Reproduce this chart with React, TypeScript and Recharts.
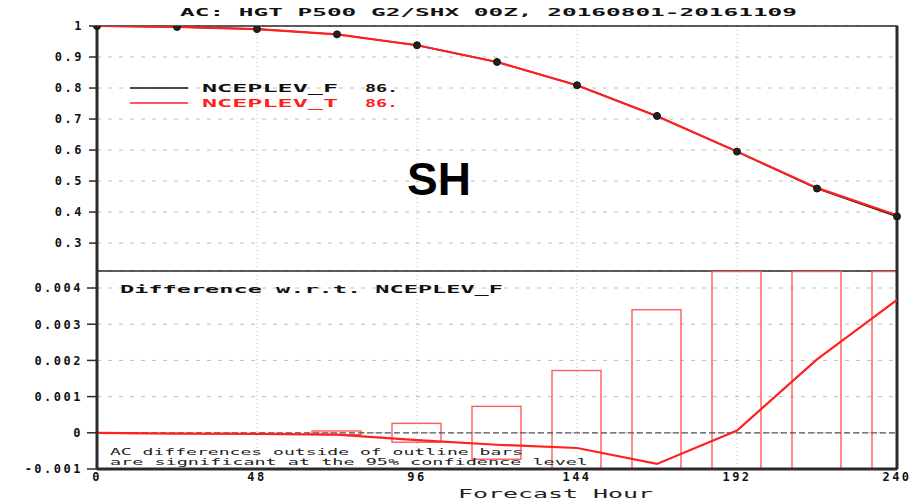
import { ComposedChart, Line, Bar, XAxis, YAxis, CartesianGrid, ReferenceLine, ReferenceArea } from 'recharts';

// forecast hours and scores
const hours = [0, 24, 48, 72, 96, 120, 144, 168, 192, 216, 240];
const acF = [1.0, 0.997, 0.99, 0.973, 0.938, 0.884, 0.809, 0.71, 0.595, 0.476, 0.386];
const acT = [1.0, 0.997, 0.99, 0.973, 0.938, 0.884, 0.809, 0.709, 0.595, 0.478, 0.39];
const diffT = [0, -0.00002, -0.00003, -0.00005, -0.0002, -0.00033, -0.00042, -0.00086, 0.00006, 0.00203, 0.00367];
// half height of the 95% confidence outline bars (null = no bar drawn)
const ciHalf = [null, null, null, 0.00005, 0.00026, 0.00073, 0.00172, 0.0034, 0.0052, 0.0068, 0.0085];

const hourTicks = [0, 48, 96, 144, 192, 240];
const acTicks = [0.3, 0.4, 0.5, 0.6, 0.7, 0.8, 0.9, 1];
const diffTicks = [-0.001, 0, 0.001, 0.002, 0.003, 0.004];

const acData = hours.map((h, i) => ({ hour: h, f: acF[i], t: acT[i] }));
const diffData = hours.map((h, i) => ({
    hour: h,
    diff: diffT[i],
    ci: ciHalf[i] == null ? null : [-(ciHalf[i] as number), ciHalf[i] as number],
}));

const MONO = '"DejaVu Sans Mono", "Liberation Mono", monospace';
const RED = '#ff2020';
const AXIS = '#2a2a2a';
const LOWER_H = 198; // plot height of the lower panel
const PLOT_RIGHT = 897;

const GradsTick = (props: any) => {
    const { x, y, payload, textAnchor, vertical } = props;
    const v = payload.value;
    const label = v === 1 ? '1' : String(v);
    return (
        <text
            x={x}
            y={y}
            textAnchor={textAnchor}
            dy={vertical ? '0.36em' : '0.71em'}
            fill="#111"
            style={{ fontFamily: MONO, fontWeight: 700, fontSize: 12, letterSpacing: 2.5 }}
        >
            {label}
        </text>
    );
};

// outline bar, clamped to the panel so the top edge stays visible like in GrADS
const OutlineBar = (props: any) => {
    const { x, y, width, height } = props;
    if (x == null || y == null || !width) return null;
    const y0 = Math.min(y, y + height);
    const y1 = Math.max(y, y + height);
    const top = Math.max(y0, 0.5);
    const bottom = Math.min(y1, LOWER_H);
    const left = x;
    const right = Math.min(x + width, PLOT_RIGHT);
    return (
        <rect
            x={left}
            y={top}
            width={Math.max(right - left, 0)}
            height={Math.max(bottom - top, 0)}
            fill="none"
            stroke="#ff5c5c"
            strokeWidth={1.4}
        />
    );
};

const App = () => {
    return (
        <div style={{ position: 'absolute', left: 0, top: 0, width: 913, height: 504, background: '#fff' }}>
            {/* upper panel: anomaly correlation */}
            <div style={{ position: 'absolute', left: 0, top: 0 }}>
                <ComposedChart width={913} height={271} data={acData} margin={{ top: 26, right: 16, left: 0, bottom: 0 }}>
                    <CartesianGrid horizontal={true} vertical={false} stroke="#bdbdbd" strokeDasharray="4 7" />
                    <CartesianGrid horizontal={false} vertical={true} stroke="#bdbdbd" strokeDasharray="1 3" />
                    <XAxis dataKey="hour" type="number" domain={[0, 240]} ticks={hourTicks} hide />
                    <YAxis
                        type="number"
                        domain={[0.21, 1]}
                        ticks={acTicks}
                        allowDataOverflow
                        width={97}
                        tickSize={8}
                        tickMargin={5}
                        axisLine={{ stroke: AXIS, strokeWidth: 3 }}
                        tickLine={{ stroke: AXIS, strokeWidth: 1.5 }}
                        tick={(p: any) => <GradsTick {...p} vertical />}
                    />
                    <ReferenceArea x1={0} x2={240} y1={0.21} y2={1} fill="none" stroke={AXIS} strokeWidth={1.5} />
                    <ReferenceLine x={240} stroke={AXIS} strokeWidth={3} />
                    <Line dataKey="f" stroke="#111" strokeWidth={1.5} dot={false} isAnimationActive={false} />
                    <Line dataKey="t" stroke={RED} strokeWidth={2.2} dot={false} isAnimationActive={false} />
                    <Line
                        dataKey="f"
                        stroke="none"
                        dot={{ r: 3.5, fill: '#222', stroke: '#111', strokeWidth: 1 }}
                        isAnimationActive={false}
                    />
                </ComposedChart>
            </div>

            {/* lower panel: difference w.r.t. NCEPLEV_F */}
            <div style={{ position: 'absolute', left: 0, top: 271 }}>
                <ComposedChart width={913} height={233} data={diffData} margin={{ top: 0, right: 16, left: 0, bottom: 0 }}>
                    <CartesianGrid horizontal={true} vertical={false} stroke="#bdbdbd" strokeDasharray="4 7" />
                    <CartesianGrid horizontal={false} vertical={true} stroke="#bdbdbd" strokeDasharray="1 3" />
                    <XAxis
                        dataKey="hour"
                        type="number"
                        domain={[0, 240]}
                        ticks={hourTicks}
                        allowDataOverflow
                        height={35}
                        tickSize={0}
                        tickMargin={3}
                        axisLine={{ stroke: AXIS, strokeWidth: 3 }}
                        tickLine={false}
                        tick={(p: any) => <GradsTick {...p} />}
                    />
                    <YAxis
                        type="number"
                        domain={[-0.001, 0.00447]}
                        ticks={diffTicks}
                        allowDataOverflow
                        width={97}
                        tickSize={10}
                        tickMargin={4}
                        axisLine={{ stroke: AXIS, strokeWidth: 3 }}
                        tickLine={{ stroke: AXIS, strokeWidth: 1.5 }}
                        tick={(p: any) => <GradsTick {...p} vertical />}
                    />
                    <ReferenceArea x1={0} x2={240} y1={-0.001} y2={0.00447} fill="none" stroke={AXIS} strokeWidth={1.5} />
                    <ReferenceLine y={0} stroke="#555" strokeWidth={1.2} strokeDasharray="6 3" />
                    <Bar dataKey="ci" barSize={49} shape={<OutlineBar />} isAnimationActive={false} />
                    <ReferenceLine x={240} stroke={AXIS} strokeWidth={3} />
                    <Line dataKey="diff" stroke={RED} strokeWidth={2.2} dot={false} isAnimationActive={false} />
                </ComposedChart>
            </div>

            {/* titles, legend and notes */}
            <svg width={913} height={504} style={{ position: 'absolute', left: 0, top: 0, pointerEvents: 'none' }}>
                <text x={180} y={16} textLength={617} lengthAdjust="spacingAndGlyphs"
                    style={{ fontFamily: MONO, fontWeight: 700, fontSize: 11 }} fill="#111">
                    AC: HGT P500 G2/SHX 00Z, 20160801-20161109
                </text>

                <line x1={130} x2={188} y1={88} y2={88} stroke="#111" strokeWidth={1.5} />
                <text x={202} y={92} textLength={136} lengthAdjust="spacingAndGlyphs"
                    style={{ fontFamily: MONO, fontWeight: 700, fontSize: 11 }} fill="#111">NCEPLEV_F</text>
                <text x={365} y={92} textLength={33} lengthAdjust="spacingAndGlyphs"
                    style={{ fontFamily: MONO, fontWeight: 700, fontSize: 11 }} fill="#111">86.</text>
                <line x1={130} x2={188} y1={103} y2={103} stroke={RED} strokeWidth={1.5} />
                <text x={202} y={107} textLength={136} lengthAdjust="spacingAndGlyphs"
                    style={{ fontFamily: MONO, fontWeight: 700, fontSize: 11 }} fill={RED}>NCEPLEV_T</text>
                <text x={365} y={107} textLength={33} lengthAdjust="spacingAndGlyphs"
                    style={{ fontFamily: MONO, fontWeight: 700, fontSize: 11 }} fill={RED}>86.</text>

                <text x={407} y={195} style={{ fontFamily: '"Liberation Sans", Arial, sans-serif', fontWeight: 700, fontSize: 46 }} fill="#000">
                    SH
                </text>

                <text x={120} y={293} textLength={383} lengthAdjust="spacingAndGlyphs"
                    style={{ fontFamily: MONO, fontWeight: 700, fontSize: 11 }} fill="#111">
                    Difference w.r.t. NCEPLEV_F
                </text>

                <text x={110} y={455} textLength={413} lengthAdjust="spacingAndGlyphs"
                    style={{ fontFamily: MONO, fontSize: 8.5 }} fill="#222">
                    AC differences outside of outline bars
                </text>
                <text x={110} y={465} textLength={478} lengthAdjust="spacingAndGlyphs"
                    style={{ fontFamily: MONO, fontSize: 8.5 }} fill="#222">
                    are significant at the 95% confidence level
                </text>

                <text x={458} y={498} textLength={195} lengthAdjust="spacingAndGlyphs"
                    style={{ fontFamily: MONO, fontSize: 12 }} fill="#222">
                    Forecast Hour
                </text>
            </svg>
        </div>
    );
};

export default App;
